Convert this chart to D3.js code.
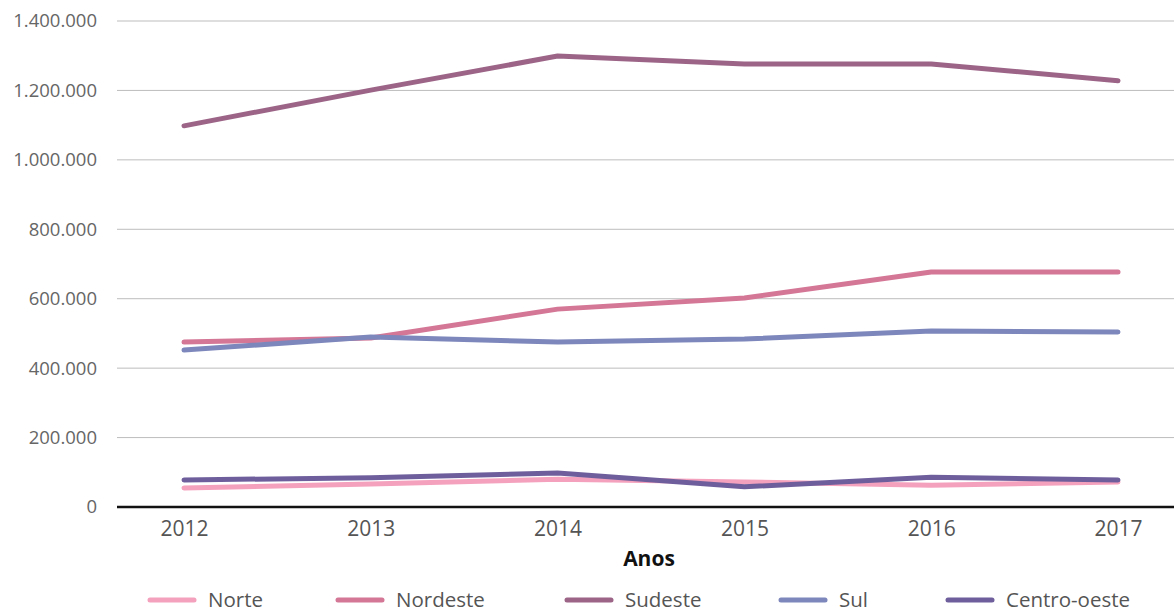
<!DOCTYPE html>
<html>
<head>
<meta charset="utf-8">
<script src="https://cdn.jsdelivr.net/npm/d3@7"></script>
<style>
  body { margin: 0; background: #fff; }
  svg text { font-family: "Open Sans", "Noto Sans", sans-serif; }
</style>
</head>
<body>
<svg width="1174" height="613"></svg>
<script>
var years = ["2012", "2013", "2014", "2015", "2016", "2017"];
var seriesNames = ["Norte", "Nordeste", "Sudeste", "Sul", "Centro-oeste"];
var seriesColors = ["#f4a1bd", "#d47695", "#9c6587", "#7d87bb", "#6e5f9c"];
var norte = [55000, 66000, 80000, 72000, 63000, 72000];
var nordeste = [475000, 487000, 570000, 602000, 677000, 677000];
var sudeste = [1098000, 1201000, 1299000, 1276000, 1276000, 1228000];
var sul = [452000, 490000, 475000, 484000, 507000, 504000];
var centroOeste = [78000, 84000, 98000, 58000, 86000, 78000];
var yTicks = [0, 200000, 400000, 600000, 800000, 1000000, 1200000, 1400000];

var allSeries = [norte, nordeste, sudeste, sul, centroOeste];

var svg = d3.select("svg");
var plot = {left: 117, right: 1174, top: 21, bottom: 507};

var x = d3.scalePoint().domain(years).range([184, 1118]);
var y = d3.scaleLinear().domain([0, 1400000]).range([plot.bottom, plot.top]);

var fmt = function(v) {
  return v === 0 ? "0" : d3.format(",")(v).replace(/,/g, ".");
};

// grid
svg.append("g")
  .selectAll("line")
  .data(yTicks.filter(function(d) { return d > 0; }))
  .enter().append("line")
  .attr("x1", plot.left).attr("x2", plot.right)
  .attr("y1", function(d) { return y(d); })
  .attr("y2", function(d) { return y(d); })
  .attr("stroke", "#bdbdbd").attr("stroke-width", 1);

// y labels
svg.append("g")
  .selectAll("text")
  .data(yTicks)
  .enter().append("text")
  .attr("x", 97)
  .attr("y", function(d) { return y(d); })
  .attr("dy", "0.35em")
  .attr("text-anchor", "end")
  .attr("fill", "#666")
  .style("font-size", "18.5px")
  .text(fmt);

// lines
var line = d3.line()
  .x(function(d, i) { return x(years[i]); })
  .y(function(d) { return y(d); });

svg.append("g")
  .selectAll("path")
  .data(allSeries)
  .enter().append("path")
  .attr("d", line)
  .attr("fill", "none")
  .attr("stroke", function(d, i) { return seriesColors[i]; })
  .attr("stroke-width", 5)
  .attr("stroke-linecap", "round")
  .attr("stroke-linejoin", "round");

// x axis
var xAxis = svg.append("g")
  .attr("transform", "translate(0," + plot.bottom + ")")
  .call(d3.axisBottom(x).tickSize(0).tickPadding(14));
xAxis.select(".domain").remove();
xAxis.append("line")
  .attr("x1", plot.left).attr("x2", plot.right)
  .attr("stroke", "#111").attr("stroke-width", 2.5);
xAxis.selectAll(".tick text")
  .attr("fill", "#555")
  .style("font-size", "21px")
  .style("font-family", "'Open Sans', sans-serif");

svg.append("text")
  .attr("x", 649).attr("y", 566)
  .attr("text-anchor", "middle")
  .attr("fill", "#111")
  .style("font-size", "21px")
  .style("font-weight", "bold")
  .text("Anos");

// legend
var legendX = [150, 338, 567, 781, 948];
var legend = svg.append("g")
  .selectAll("g")
  .data(seriesNames)
  .enter().append("g")
  .attr("transform", function(d, i) { return "translate(" + legendX[i] + ",600)"; });
legend.append("line")
  .attr("x1", 0).attr("x2", 44)
  .attr("stroke", function(d, i) { return seriesColors[i]; })
  .attr("stroke-width", 5)
  .attr("stroke-linecap", "round");
legend.append("text")
  .attr("x", 58).attr("dy", "0.35em")
  .attr("fill", "#555")
  .style("font-size", "20.5px")
  .text(function(d) { return d; });
</script>
</body>
</html>
